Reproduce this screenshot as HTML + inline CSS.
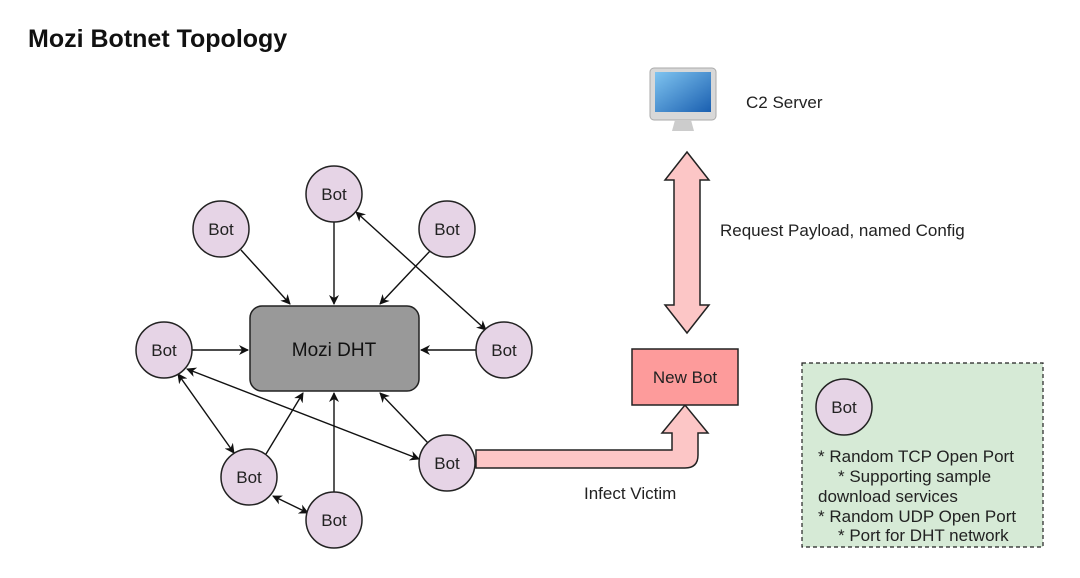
<!DOCTYPE html>
<html><head><meta charset="utf-8"><style>
html,body{margin:0;padding:0;background:#fff;}
svg{display:block;font-family:"Liberation Sans",sans-serif;}
</style></head><body>
<svg width="1080" height="578" viewBox="0 0 1080 578" xmlns="http://www.w3.org/2000/svg">
<defs>
<marker id="a" markerWidth="10" markerHeight="10" refX="9" refY="5" orient="auto" markerUnits="userSpaceOnUse" viewBox="0 0 10 10">
<path d="M0,0 L10,5 L0,10 L3,5 z" fill="#111"/></marker>
<marker id="s" markerWidth="10" markerHeight="10" refX="1" refY="5" orient="auto" markerUnits="userSpaceOnUse" viewBox="0 0 10 10">
<path d="M10,0 L0,5 L10,10 L7,5 z" fill="#111"/></marker>
<linearGradient id="scr" x1="0" y1="0" x2="1" y2="1"><stop offset="0" stop-color="#7fc4f0"/><stop offset="1" stop-color="#1a5fb0"/></linearGradient>
</defs>
<text x="28" y="47" font-size="25" font-weight="bold" fill="#111">Mozi Botnet Topology</text>

<rect x="650" y="68" width="66" height="52" rx="4" fill="#d8d8d8" stroke="#aaa"/>
<rect x="655" y="72" width="56" height="40" fill="url(#scr)"/>
<path d="M675,120 L691,120 L694,131 L672,131 z" fill="#ccc"/>
<text x="746" y="108" font-size="17" fill="#222">C2 Server</text>

<path d="M687,152 L709,180 L700,180 L700,305 L709,305 L687,333 L665,305 L674,305 L674,180 L665,180 z" fill="#fcc6c6" stroke="#222" stroke-width="1.5"/>
<text x="720" y="236" font-size="17" fill="#222">Request Payload, named Config</text>

<path d="M476,450 L672,450 L672,433 L662,433 L685,405 L708,433 L698,433 L698,455 Q698,468 685,468 L476,468 z" fill="#fcc6c6" stroke="#222" stroke-width="1.5"/>
<text x="584" y="499" font-size="17" fill="#222">Infect Victim</text>

<rect x="632" y="349" width="106" height="56" fill="#fd9b9b" stroke="#222" stroke-width="1.5"/>
<text x="685" y="383" font-size="17" fill="#222" text-anchor="middle">New Bot</text>

<g stroke="#111" stroke-width="1.4" fill="none">
<line x1="241" y1="250" x2="290" y2="304" marker-end="url(#a)"/>
<line x1="334" y1="222" x2="334" y2="304" marker-end="url(#a)"/>
<line x1="430" y1="251" x2="380" y2="304" marker-end="url(#a)"/>
<line x1="356" y1="212" x2="486" y2="330" marker-start="url(#s)" marker-end="url(#a)"/>
<line x1="192" y1="350" x2="248" y2="350" marker-end="url(#a)"/>
<line x1="476" y1="350" x2="421" y2="350" marker-end="url(#a)"/>
<line x1="428" y1="443" x2="380" y2="393" marker-end="url(#a)"/>
<line x1="334" y1="492" x2="334" y2="393" marker-end="url(#a)"/>
<line x1="266" y1="454" x2="303" y2="393" marker-end="url(#a)"/>
<line x1="178" y1="374" x2="234" y2="453" marker-start="url(#s)" marker-end="url(#a)"/>
<line x1="187" y1="369" x2="419" y2="459" marker-start="url(#s)" marker-end="url(#a)"/>
<line x1="273" y1="496" x2="308" y2="513" marker-start="url(#s)" marker-end="url(#a)"/>
</g>

<rect x="250" y="306" width="169" height="85" rx="12" fill="#999" stroke="#222" stroke-width="1.5"/>
<text x="334" y="356" font-size="19" fill="#111" text-anchor="middle">Mozi DHT</text>

<g fill="#e6d4e6" stroke="#222" stroke-width="1.5">
<circle cx="334" cy="194" r="28"/><circle cx="221" cy="229" r="28"/><circle cx="447" cy="229" r="28"/>
<circle cx="164" cy="350" r="28"/><circle cx="504" cy="350" r="28"/><circle cx="249" cy="477" r="28"/>
<circle cx="447" cy="463" r="28"/><circle cx="334" cy="520" r="28"/>
</g>
<g font-size="17" fill="#222" text-anchor="middle">
<text x="334" y="200">Bot</text><text x="221" y="235">Bot</text><text x="447" y="235">Bot</text>
<text x="164" y="356">Bot</text><text x="504" y="356">Bot</text><text x="249" y="483">Bot</text>
<text x="447" y="469">Bot</text><text x="334" y="526">Bot</text>
</g>

<rect x="802" y="363" width="241" height="184" fill="#d6ead6" stroke="#222" stroke-width="1.2" stroke-dasharray="4,3"/>
<circle cx="844" cy="407" r="28" fill="#e6d4e6" stroke="#222" stroke-width="1.5"/>
<text x="844" y="413" font-size="17" fill="#222" text-anchor="middle">Bot</text>
<g font-size="17" fill="#222">
<text x="818" y="462">* Random TCP Open Port</text>
<text x="838" y="482">* Supporting sample</text>
<text x="818" y="502">download services</text>
<text x="818" y="522">* Random UDP Open Port</text>
<text x="838" y="541">* Port for DHT network</text>
</g>
</svg>
</body></html>
